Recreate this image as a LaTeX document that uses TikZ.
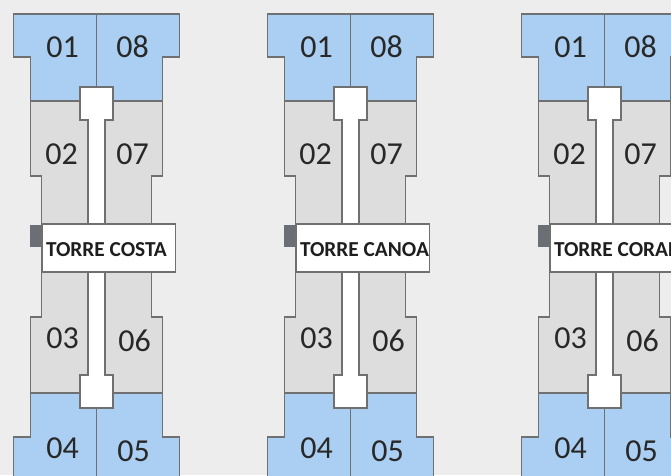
\documentclass[tikz,border=0pt]{standalone}
\usepackage{fontspec}
\setmainfont{Carlito}

\tikzset{every picture/.style={line width=0.75pt}}
\tikzset{
  wall/.style={draw={rgb, 255:red, 112; green, 112; blue, 112 }, line width=1.1pt},
  blueunit/.style={wall, fill={rgb, 255:red, 171; green, 207; blue, 242 }},
  grayunit/.style={wall, fill={rgb, 255:red, 221; green, 221; blue, 221 }},
  corewhite/.style={wall, fill=white},
  stairtab/.style={fill={rgb, 255:red, 108; green, 110; blue, 118 }},
  unitnum/.style={inner sep=0pt, text={rgb, 255:red, 40; green, 40; blue, 40 }, font=\fontsize{24}{28}\selectfont},
  towername/.style={inner sep=0pt, anchor=west, text={rgb, 255:red, 30; green, 30; blue, 30 }, font=\bfseries\fontsize{16}{19}\selectfont}
}

\begin{document}
\begin{tikzpicture}[x=0.75pt,y=0.75pt,yscale=-1,xscale=1]
%picture 671 x 475, background light grey
\useasboundingbox (0,0) rectangle (671,475);
\clip (0,0) rectangle (671,475);
\fill [color={rgb, 255:red, 237; green, 237; blue, 237 }] (0,0) rectangle (671,475);

\foreach \c/\tname/\id in {96.5/TORRE COSTA/c, 350.5/TORRE CANOA/n, 604.5/TORRE CORAL/r}{
  %Top units 01 - 08
  \draw [blueunit] (\c-83,14) -- (\c+83,14) -- (\c+83,57) -- (\c+66,57) -- (\c+66,101) -- (\c-66,101) -- (\c-66,57) -- (\c-83,57) -- cycle ;
  \draw [wall] (\c,14) -- (\c,101) ;
  %Middle units 02 - 07 - 03 - 06
  \draw [grayunit] (\c-66,101) -- (\c+66,101) -- (\c+66,176) -- (\c+55,176) -- (\c+55,317) -- (\c+66,317) -- (\c+66,393) -- (\c-66,393) -- (\c-66,317) -- (\c-55,317) -- (\c-55,176) -- (\c-66,176) -- cycle ;
  %Bottom units 04 - 05
  \draw [blueunit] (\c-66,393) -- (\c+66,393) -- (\c+66,437) -- (\c+83,437) -- (\c+83,482) -- (\c-83,482) -- (\c-83,437) -- (\c-66,437) -- cycle ;
  \draw [wall] (\c,393) -- (\c,482) ;
  %Corridor
  \draw [corewhite] (\c-16.5,87) -- (\c+16.5,87) -- (\c+16.5,120) -- (\c+8.5,120) -- (\c+8.5,375) -- (\c+16.5,375) -- (\c+16.5,408) -- (\c-16.5,408) -- (\c-16.5,375) -- (\c-8.5,375) -- (\c-8.5,120) -- (\c-16.5,120) -- cycle ;
  %Name plate
  \fill [stairtab] (\c-67,225) rectangle (\c-54.5,247) ;
  \draw [corewhite] (\c-54.5,224) rectangle (\c+79,272) ;

  % Text Node
  \node [unitnum] (\id01) at (\c-34,47) {01};
  \node [unitnum] (\id08) at (\c+36,47) {08};
  \node [unitnum] (\id02) at (\c-35,154) {02};
  \node [unitnum] (\id07) at (\c+36,154) {07};
  \node [unitnum] (\id03) at (\c-34,338) {03};
  \node [unitnum] (\id06) at (\c+38,341) {06};
  \node [unitnum] (\id04) at (\c-34,448) {04};
  \node [unitnum] (\id05) at (\c+37,451) {05};
  \node [towername] (\id name) at (\c-51,250) {\tname};
}
\end{tikzpicture}
\end{document}
